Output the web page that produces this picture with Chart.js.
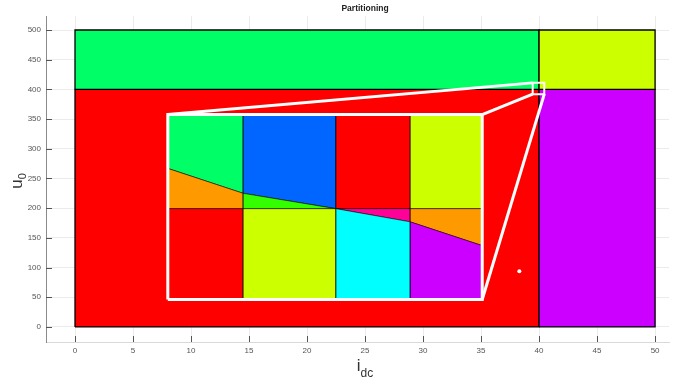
<!DOCTYPE html>
<html>
<head>
<meta charset="utf-8">
<script src="https://cdn.jsdelivr.net/npm/chart.js"></script>
<style>
  html, body { margin: 0; padding: 0; background: #fff; overflow: hidden; }
</style>
</head>
<body>
<canvas id="chart" width="673" height="379"></canvas>
<script>
// main partition of the (i_dc, u_0) plane
const idcEdges = [0, 40, 50];
const u0Edges = [0, 400, 500];
const mainColors = [["#ff0000", "#cc00ff"], ["#00ff66", "#ccff00"]]; // [row][col]

// magnified inset, placed in main axis units
const insetX = [8, 14.5, 22.5, 28.9, 35.1];
const insetY = [46.3, 199.2, 357.7];
const insetSlant = [267, 225, 199.2, 177, 137];

// zoom marker around (40, 400) and the lone dot
const zoomBoxX = [39.45, 40.45];
const zoomBoxY = [392, 411];
const dotPoint = [38.3, 94];

const xTicks = [0, 5, 10, 15, 20, 25, 30, 35, 40, 45, 50];
const yTicks = [0, 50, 100, 150, 200, 250, 300, 350, 400, 450, 500];

const FONT = "'Liberation Sans', Arial, sans-serif";

function poly(points, fillColor, lineColor, lineWidth) {
    let data = points.map(p => ({x: p[0], y: p[1]}));
    data.push({x: points[0][0], y: points[0][1]});
    return {
        data: data,
        backgroundColor: fillColor,
        borderColor: lineColor,
        borderWidth: lineWidth,
        fill: fillColor ? "shape" : false,
        pointRadius: 0,
        tension: 0,
    };
}

function segment(a, b, color, width) {
    return {
        data: [{x: a[0], y: a[1]}, {x: b[0], y: b[1]}],
        borderColor: color,
        borderWidth: width,
        fill: false,
        pointRadius: 0,
        tension: 0,
    };
}

let layers = [];

// big rectangles
for (let r = 0; r < 2; r++) {
    for (let c = 0; c < 2; c++) {
        let x0 = idcEdges[c], x1 = idcEdges[c + 1];
        let y0 = u0Edges[r], y1 = u0Edges[r + 1];
        layers.push(poly([[x0, y0], [x1, y0], [x1, y1], [x0, y1]], mainColors[r][c], "#000", 1.3));
    }
}

// lines joining inset and zoom box
const X = insetX, Y = insetY, S = insetSlant;
layers.push(segment([X[0], Y[2]], [zoomBoxX[0], zoomBoxY[1]], "#fff", 3));
layers.push(segment([X[4], Y[2]], [zoomBoxX[0], zoomBoxY[0]], "#fff", 3));
layers.push(segment([X[4], Y[0]], [zoomBoxX[1], zoomBoxY[0]], "#fff", 3));

// inset cells
const insetCells = [
    ["#00ff66", [[X[0], Y[2]], [X[1], Y[2]], [X[1], S[1]], [X[0], S[0]]]],
    ["#ff9900", [[X[0], S[0]], [X[1], S[1]], [X[1], Y[1]], [X[0], Y[1]]]],
    ["#0066ff", [[X[1], Y[2]], [X[2], Y[2]], [X[2], S[2]], [X[1], S[1]]]],
    ["#33ff00", [[X[1], S[1]], [X[2], S[2]], [X[1], Y[1]]]],
    ["#ff0000", [[X[2], Y[2]], [X[3], Y[2]], [X[3], Y[1]], [X[2], Y[1]]]],
    ["#ccff00", [[X[3], Y[2]], [X[4], Y[2]], [X[4], Y[1]], [X[3], Y[1]]]],
    ["#ff0000", [[X[0], Y[1]], [X[1], Y[1]], [X[1], Y[0]], [X[0], Y[0]]]],
    ["#ccff00", [[X[1], Y[1]], [X[2], Y[1]], [X[2], Y[0]], [X[1], Y[0]]]],
    ["#ff0099", [[X[2], Y[1]], [X[3], Y[1]], [X[3], S[3]]]],
    ["#00ffff", [[X[2], Y[1]], [X[3], S[3]], [X[3], Y[0]], [X[2], Y[0]]]],
    ["#ff9900", [[X[3], Y[1]], [X[4], Y[1]], [X[4], S[4]], [X[3], S[3]]]],
    ["#cc00ff", [[X[3], S[3]], [X[4], S[4]], [X[4], Y[0]], [X[3], Y[0]]]],
];
insetCells.forEach(cell => layers.push(poly(cell[1], cell[0], "rgba(0,0,0,0.65)", 0.8)));

// inset frame and zoom box
layers.push(poly([[X[0], Y[0]], [X[4], Y[0]], [X[4], Y[2]], [X[0], Y[2]]], null, "#fff", 3));
layers.push(poly([[zoomBoxX[0], zoomBoxY[0]], [zoomBoxX[1], zoomBoxY[0]],
    [zoomBoxX[1], zoomBoxY[1]], [zoomBoxX[0], zoomBoxY[1]]], null, "#fff", 2));

layers.push({
    data: [{x: dotPoint[0], y: dotPoint[1]}],
    showLine: false,
    pointRadius: 2,
    pointBackgroundColor: "#fff",
    pointBorderWidth: 0,
});

// first in list is drawn first
layers.forEach((d, i) => d.order = layers.length - i);

const decor = {
    id: "decor",
    afterDraw(chart) {
        const ctx = chart.ctx;
        const xs = chart.scales.x, ys = chart.scales.y;
        const area = chart.chartArea;
        ctx.save();
        // inward ticks
        ctx.strokeStyle = "#555";
        ctx.lineWidth = 1;
        ctx.beginPath();
        xTicks.forEach(v => {
            let px = Math.round(xs.getPixelForValue(v)) + 0.5;
            ctx.moveTo(px, area.bottom);
            ctx.lineTo(px, area.bottom - 6);
        });
        yTicks.forEach(v => {
            let py = Math.round(ys.getPixelForValue(v)) + 0.5;
            ctx.moveTo(area.left, py);
            ctx.lineTo(area.left + 6, py);
        });
        ctx.stroke();

        const cx = xs.getPixelForValue(25);
        // title
        ctx.fillStyle = "#222";
        ctx.font = "bold 8.5px " + FONT;
        ctx.textAlign = "center";
        ctx.textBaseline = "middle";
        ctx.fillText("Partitioning", cx, 9);

        // x label i_dc
        ctx.fillStyle = "#333";
        ctx.textAlign = "left";
        ctx.textBaseline = "alphabetic";
        ctx.font = "17px " + FONT;
        let wi = ctx.measureText("i").width;
        ctx.font = "12px " + FONT;
        let wdc = ctx.measureText("dc").width;
        let x0 = cx - (wi + wdc) / 2;
        ctx.font = "17px " + FONT;
        ctx.fillText("i", x0, 371);
        ctx.font = "12px " + FONT;
        ctx.fillText("dc", x0 + wi, 377);

        // y label u_0
        const cy = (area.top + area.bottom) / 2 + 2;
        ctx.translate(22, cy);
        ctx.rotate(-Math.PI / 2);
        ctx.font = "17px " + FONT;
        let wu = ctx.measureText("u").width;
        ctx.font = "11px " + FONT;
        let w0 = ctx.measureText("0").width;
        let s = -(wu + w0) / 2;
        ctx.font = "17px " + FONT;
        ctx.fillText("u", s, 0);
        ctx.font = "11px " + FONT;
        ctx.fillText("0", s + wu, 4);
        ctx.restore();
    }
};

new Chart(document.getElementById("chart"), {
    type: "line",
    data: {datasets: layers},
    options: {
        responsive: false,
        animation: false,
        events: [],
        layout: {padding: {top: 16, left: 0, right: 0, bottom: 0}},
        plugins: {
            legend: {display: false},
            title: {display: false},
            tooltip: {enabled: false},
        },
        scales: {
            x: {
                type: "linear",
                min: -2.5,
                max: 51.2,
                afterFit: s => { s.height = 37; },
                afterBuildTicks: s => { s.ticks = xTicks.map(v => ({value: v})); },
                grid: {color: "#ebebeb", drawTicks: false},
                border: {color: "#d9d9d9"},
                ticks: {
                    padding: 4,
                    color: "#555",
                    maxRotation: 0,
                    autoSkip: false,
                    font: {size: 8, family: FONT},
                },
            },
            y: {
                type: "linear",
                min: -25.3,
                max: 523.6,
                afterFit: s => { s.width = 46; },
                afterBuildTicks: s => { s.ticks = yTicks.map(v => ({value: v})); },
                grid: {color: "#ebebeb", drawTicks: false},
                border: {color: "#8a8a8a"},
                ticks: {
                    padding: 5,
                    color: "#555",
                    autoSkip: false,
                    font: {size: 8, family: FONT},
                },
            },
        },
    },
    plugins: [decor],
});
</script>
</body>
</html>
